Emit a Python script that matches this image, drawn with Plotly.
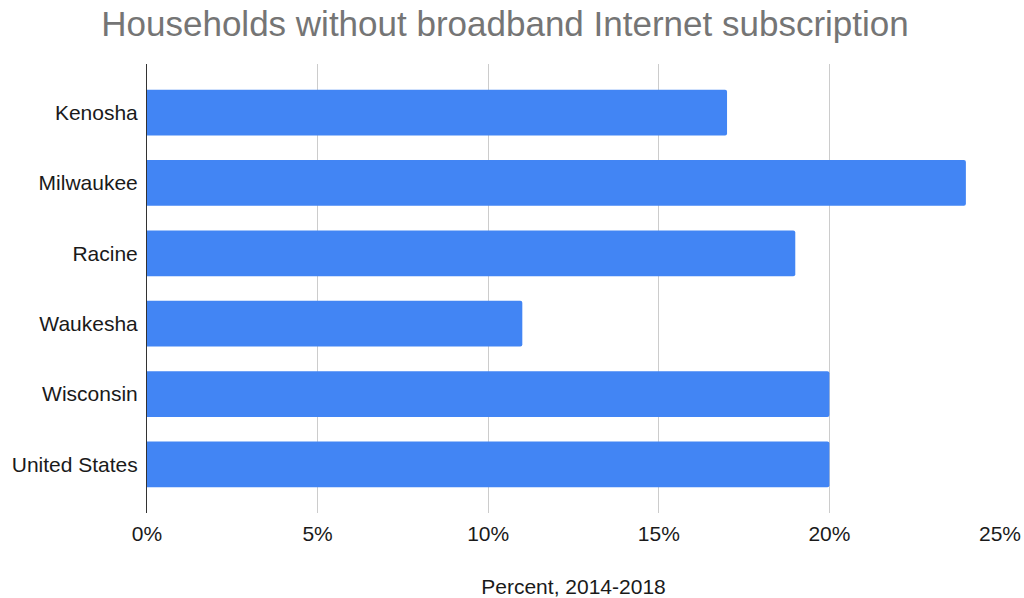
import plotly.graph_objects as go

# Share of households without a broadband Internet subscription, 2014-2018
places = ["Kenosha", "Milwaukee", "Racine", "Waukesha", "Wisconsin", "United States"]
pct_without_broadband = [0.17, 0.24, 0.19, 0.11, 0.20, 0.20]
x_ticks = [0, 0.05, 0.10, 0.15, 0.20, 0.25]

FONT = "Liberation Sans, Arial, sans-serif"

fig = go.Figure(
    go.Bar(
        y=places,
        x=pct_without_broadband,
        orientation="h",
        marker=dict(color="#4285F4", line=dict(width=0)),
        width=0.65,
        hoverinfo="x+y",
    )
)

fig.update_layout(
    width=1024,
    height=598,
    paper_bgcolor="white",
    plot_bgcolor="white",
    margin=dict(l=147, r=24, t=64, b=85),
    barcornerradius=2,
    font=dict(family=FONT, size=21, color="#1a1a1a"),
    title=dict(
        text="Households without broadband Internet subscription",
        font=dict(family=FONT, size=35, color="#757575"),
        x=505 / 1024,
        xanchor="center",
        xref="container",
        yref="container",
        y=1 - 23.5 / 598,
        yanchor="middle",
    ),
    showlegend=False,
)

fig.update_xaxes(
    range=[0, 0.25],
    tickvals=x_ticks,
    tickformat=".0%",
    automargin=False,
    showgrid=True,
    gridcolor="#cccccc",
    gridwidth=1,
    zeroline=False,
    showline=False,
    ticks="",
    ticklabelstandoff=6,
    tickfont=dict(family=FONT, size=21, color="#1a1a1a"),
    title=dict(
        text="Percent, 2014-2018",
        font=dict(family=FONT, size=21, color="#1a1a1a"),
        standoff=35,
    ),
)

fig.update_yaxes(
    categoryorder="array",
    categoryarray=places,
    range=[5.69, -0.69],
    automargin=False,
    showgrid=False,
    zeroline=False,
    showline=True,
    linecolor="#333333",
    linewidth=1,
    ticks="",
    ticklabelstandoff=4,
    tickfont=dict(family=FONT, size=21, color="#1a1a1a"),
)

fig.write_html("out.html")
